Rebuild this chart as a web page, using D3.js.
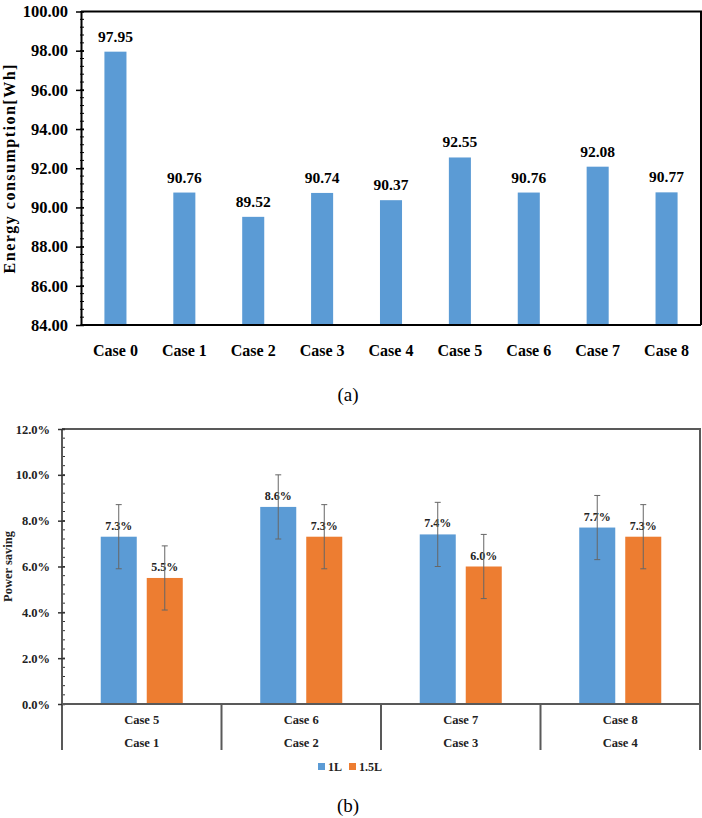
<!DOCTYPE html>
<html>
<head>
<meta charset="utf-8">
<script src="https://cdn.jsdelivr.net/npm/d3@7"></script>
<style>
  body { margin: 0; background: #fff; }
  svg, svg text { font-family: "Liberation Serif", "Times New Roman", serif !important; }
</style>
</head>
<body>
<div id="chart"></div>
<script>
// ---- data, chart (a)
const casesA = ["Case 0", "Case 1", "Case 2", "Case 3", "Case 4", "Case 5", "Case 6", "Case 7", "Case 8"];
const energyWh = [97.95, 90.76, 89.52, 90.74, 90.37, 92.55, 90.76, 92.08, 90.77];
const energyTicks = [84, 86, 88, 90, 92, 94, 96, 98, 100];

// ---- data, chart (b)
const topCases = ["Case 5", "Case 6", "Case 7", "Case 8"];
const baseCases = ["Case 1", "Case 2", "Case 3", "Case 4"];
const seriesNames = ["1L", "1.5L"];
const saving1L = [7.3, 8.6, 7.4, 7.7];
const saving15L = [5.5, 7.3, 6.0, 7.3];
const err1L = [1.4, 1.4, 1.4, 1.4];
const err15L = [1.4, 1.4, 1.4, 1.4];
const savingTicks = [0, 2, 4, 6, 8, 10, 12];

const colors = {"1L": "#5b9bd5", "1.5L": "#ed7d31"};

const width = 702, height = 818;

const svg = d3.select("#chart").append("svg")
  .attr("width", width)
  .attr("height", height);

// ================= chart (a) =================
const mA = {top: 11.5, left: 81, right: 701, bottom: 325};

const xA = d3.scaleBand()
  .domain(casesA)
  .range([mA.left, mA.right])
  .paddingInner(0.68)
  .paddingOuter(0.34);

const yA = d3.scaleLinear()
  .domain([84, 100])
  .range([mA.bottom, mA.top]);

const gA = svg.append("g");

// frame top + right
gA.append("path")
  .attr("d", `M${mA.left},${mA.top}H${mA.right}V${mA.bottom}`)
  .attr("fill", "none")
  .attr("stroke", "#000")
  .attr("stroke-width", 2);

gA.append("g")
  .selectAll("rect")
  .data(energyWh)
  .join("rect")
    .attr("x", (d, i) => xA(casesA[i]))
    .attr("y", d => yA(d))
    .attr("width", xA.bandwidth())
    .attr("height", d => yA(84) - yA(d))
    .attr("fill", colors["1L"]);

gA.append("g")
  .selectAll("text")
  .data(energyWh)
  .join("text")
    .attr("x", (d, i) => xA(casesA[i]) + xA.bandwidth() / 2)
    .attr("y", d => yA(d) - 10)
    .attr("text-anchor", "middle")
    .attr("font-size", "15.5px")
    .attr("font-weight", "bold")
    .text(d => d.toFixed(2));

// minor ticks
const minorA = d3.range(84, 100.01, 0.4);
gA.append("g")
  .selectAll("line")
  .data(minorA)
  .join("line")
    .attr("x1", mA.left - 1).attr("x2", mA.left + 3)
    .attr("y1", d => yA(d)).attr("y2", d => yA(d))
    .attr("stroke", "#000").attr("stroke-width", 1);

// y axis
const yAxisA = gA.append("g")
  .attr("transform", `translate(${mA.left},0)`)
  .call(d3.axisLeft(yA).tickValues(energyTicks).tickFormat(d3.format(".2f")).tickSizeInner(5).tickSizeOuter(0))
  .attr("font-family", null);
yAxisA.select(".domain").attr("stroke", "#000").attr("stroke-width", 2);
yAxisA.selectAll(".tick line").attr("x2", -5).attr("x1", 3).attr("stroke-width", 1.5);
yAxisA.selectAll(".tick text")
  .attr("x", -13)
  .attr("font-size", "16.5px")
  .attr("font-weight", "bold")
  .attr("fill", "#000");

// x axis
const xAxisA = gA.append("g")
  .attr("transform", `translate(0,${mA.bottom})`)
  .call(d3.axisBottom(xA).tickSize(0).tickSizeOuter(0))
  .attr("font-family", null);
xAxisA.select(".domain").attr("stroke", "#000").attr("stroke-width", 2)
  .attr("d", `M${mA.left},0H${mA.right}`);
xAxisA.selectAll(".tick text")
  .attr("y", 31)
  .attr("dy", 0)
  .attr("font-size", "16px")
  .attr("font-weight", "bold")
  .attr("fill", "#000");

gA.append("text")
  .attr("transform", `translate(15,${(mA.top + mA.bottom) / 2}) rotate(-90)`)
  .attr("text-anchor", "middle")
  .attr("font-size", "16px")
  .attr("font-weight", "bold")
  .attr("letter-spacing", "1.5px")
  .text("Energy consumption[Wh]");

svg.append("text")
  .attr("x", 348).attr("y", 401)
  .attr("text-anchor", "middle")
  .attr("font-size", "19px")
  .text("(a)");

// ================= chart (b) =================
const mB = {top: 429, left: 62, right: 700, bottom: 704, catBottom: 750};

const x0 = d3.scaleBand()
  .domain(topCases)
  .range([mB.left, mB.right])
  .padding(0);

const x1 = d3.scaleBand()
  .domain(seriesNames)
  .range([0, x0.bandwidth()])
  .paddingInner(0.217)
  .paddingOuter(0.842);

const yB = d3.scaleLinear()
  .domain([0, 12])
  .range([mB.bottom, mB.top]);

const gB = svg.append("g");
const axisGrey = "#595959";

gB.append("path")
  .attr("d", `M${mB.left},${mB.top}H${mB.right}V${mB.catBottom}`)
  .attr("fill", "none")
  .attr("stroke", axisGrey)
  .attr("stroke-width", 2);

const rows = topCases.map((c, i) => ({
  cat: c,
  values: [
    {s: "1L", v: saving1L[i], e: err1L[i]},
    {s: "1.5L", v: saving15L[i], e: err15L[i]}
  ]
}));

const groups = gB.append("g")
  .selectAll("g")
  .data(rows)
  .join("g")
    .attr("transform", d => `translate(${x0(d.cat)},0)`);

groups.selectAll("rect")
  .data(d => d.values)
  .join("rect")
    .attr("x", d => x1(d.s))
    .attr("y", d => yB(d.v))
    .attr("width", x1.bandwidth())
    .attr("height", d => yB(0) - yB(d.v))
    .attr("fill", d => colors[d.s]);

groups.selectAll("text.val")
  .data(d => d.values)
  .join("text")
    .attr("class", "val")
    .attr("x", d => x1(d.s) + x1.bandwidth() / 2)
    .attr("y", d => yB(d.v) - 7)
    .attr("text-anchor", "middle")
    .attr("font-size", "12px")
    .attr("font-weight", "bold")
    .attr("fill", "#222")
    .text(d => d.v.toFixed(1) + "%");

// error bars
const eb = groups.selectAll("g.err")
  .data(d => d.values)
  .join("g")
    .attr("class", "err")
    .attr("stroke", "#666")
    .attr("stroke-width", 1);
eb.append("line")
  .attr("x1", d => x1(d.s) + x1.bandwidth() / 2)
  .attr("x2", d => x1(d.s) + x1.bandwidth() / 2)
  .attr("y1", d => yB(d.v + d.e))
  .attr("y2", d => yB(d.v - d.e));
eb.selectAll("line.cap")
  .data(d => [{s: d.s, y: d.v + d.e}, {s: d.s, y: d.v - d.e}])
  .join("line")
    .attr("class", "cap")
    .attr("x1", d => x1(d.s) + x1.bandwidth() / 2 - 3)
    .attr("x2", d => x1(d.s) + x1.bandwidth() / 2 + 3)
    .attr("y1", d => yB(d.y))
    .attr("y2", d => yB(d.y));

// minor ticks
const minorB = d3.range(0, 12.01, 0.4);
gB.append("g")
  .selectAll("line")
  .data(minorB)
  .join("line")
    .attr("x1", mB.left).attr("x2", mB.left + 3)
    .attr("y1", d => yB(d)).attr("y2", d => yB(d))
    .attr("stroke", "#333").attr("stroke-width", 1);

const yAxisB = gB.append("g")
  .attr("transform", `translate(${mB.left},0)`)
  .call(d3.axisLeft(yB).tickValues(savingTicks).tickFormat(d => d.toFixed(1) + "%").tickSizeInner(4).tickSizeOuter(0))
  .attr("font-family", null);
yAxisB.select(".domain").attr("stroke", axisGrey).attr("stroke-width", 2)
  .attr("d", `M0,${mB.top}V${mB.catBottom}`);
yAxisB.selectAll(".tick line").attr("x1", 3).attr("x2", -4).attr("stroke", "#333").attr("stroke-width", 1.5);
yAxisB.selectAll(".tick text")
  .attr("x", -12)
  .attr("font-size", "12.5px")
  .attr("font-weight", "bold")
  .attr("fill", "#222");

// baseline and category dividers
gB.append("line")
  .attr("x1", mB.left).attr("x2", mB.right)
  .attr("y1", mB.bottom).attr("y2", mB.bottom)
  .attr("stroke", axisGrey).attr("stroke-width", 2);

gB.append("g")
  .selectAll("line")
  .data(topCases.slice(1))
  .join("line")
    .attr("x1", d => x0(d)).attr("x2", d => x0(d))
    .attr("y1", mB.bottom).attr("y2", mB.catBottom)
    .attr("stroke", axisGrey).attr("stroke-width", 2);

gB.append("g")
  .selectAll("text")
  .data(topCases)
  .join("text")
    .attr("x", d => x0(d) + x0.bandwidth() / 2)
    .attr("y", 724)
    .attr("text-anchor", "middle")
    .attr("font-size", "12.5px")
    .attr("font-weight", "bold")
    .attr("fill", "#222")
    .text(d => d);

gB.append("g")
  .selectAll("text")
  .data(baseCases)
  .join("text")
    .attr("x", (d, i) => x0(topCases[i]) + x0.bandwidth() / 2)
    .attr("y", 747)
    .attr("text-anchor", "middle")
    .attr("font-size", "12.5px")
    .attr("font-weight", "bold")
    .attr("fill", "#222")
    .text(d => d);

gB.append("text")
  .attr("transform", `translate(12,${(mB.top + mB.bottom) / 2}) rotate(-90)`)
  .attr("text-anchor", "middle")
  .attr("font-size", "12.5px")
  .attr("font-weight", "bold")
  .attr("fill", "#222")
  .text("Power saving");

// legend
const legendX = [318, 349];
const legend = gB.append("g")
  .selectAll("g")
  .data(seriesNames)
  .join("g")
    .attr("transform", (d, i) => `translate(${legendX[i]},763)`);
legend.append("rect")
  .attr("width", 7).attr("height", 7)
  .attr("fill", d => colors[d]);
legend.append("text")
  .attr("x", 10).attr("y", 7.5)
  .attr("font-size", "12px")
  .attr("font-weight", "bold")
  .attr("fill", "#222")
  .text(d => d);

svg.append("text")
  .attr("x", 348).attr("y", 812)
  .attr("text-anchor", "middle")
  .attr("font-size", "19px")
  .text("(b)");
</script>
</body>
</html>
